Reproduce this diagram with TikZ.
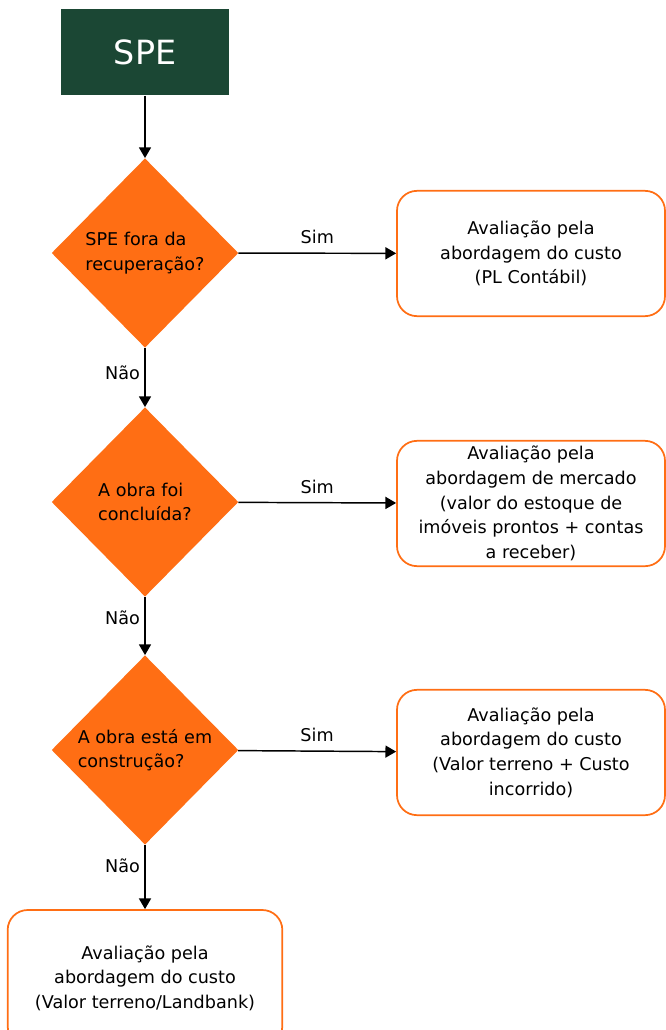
\documentclass[tikz,border=0pt]{standalone}
\usepackage{fontspec}
\setmainfont{DejaVu Sans}
\usetikzlibrary{shapes.geometric,arrows.meta}
\definecolor{speGreen}{RGB}{27,71,52}
\definecolor{speOrange}{RGB}{255,110,20}

\begin{document}
\begin{tikzpicture}[x=0.75pt,y=-0.75pt,
    every node/.style={font=\fontsize{13.2}{18.5}\selectfont},
    spebox/.style={fill=speGreen,text=white,minimum width=126pt,minimum height=65pt,font=\fontsize{25}{30}\selectfont},
    decision/.style={diamond,fill=speOrange,minimum width=140pt,minimum height=142pt,inner sep=0pt,align=left},
    result/.style={draw=speOrange,line width=1.3pt,rounded corners=15pt,minimum width=201pt,minimum height=94pt,align=center,fill=white},
    flow/.style={-{Triangle[length=8pt,width=9pt]},line width=1.1pt}]
            \useasboundingbox (0,0) rectangle (666,1030);
            \node[spebox] (spe) at (145,52) {SPE};
            \node[decision] (q1) at (145,253) {SPE fora da\\recuperação?};
            \node[decision] (q2) at (145,502) {A obra foi\\concluída?};
            \node[decision] (q3) at (145,750) {A obra está em\\construção?};
            \node[result] (r1) at (531,253.5) {Avaliação pela\\abordagem do custo\\(PL Contábil)};
            \node[result] (r2) at (531,503.5) {Avaliação pela\\abordagem de mercado\\(valor do estoque de\\imóveis prontos + contas\\a receber)};
            \node[result] (r3) at (531,752.5) {Avaliação pela\\abordagem do custo\\(Valor terreno + Custo\\incorrido)};
            \node[result,minimum width=206pt,minimum height=102pt] (r4) at (145,978) {Avaliação pela\\abordagem do custo\\(Valor terreno/Landbank)};
            \draw[flow] (spe) -- (q1);
            \draw[flow] (q1) -- node[above=3pt] {Sim} (r1);
            \draw[flow] (q2) -- node[above=3pt] {Sim} (r2);
            \draw[flow] (q3) -- node[above=3pt] {Sim} (r3);
            \draw[flow] (q1) -- node[left,pos=0.42] {Não} (q2);
            \draw[flow] (q2) -- node[left,pos=0.36] {Não} (q3);
            \draw[flow] (q3) -- node[left,pos=0.32] {Não} (r4);
        \end{tikzpicture}
\end{document}
